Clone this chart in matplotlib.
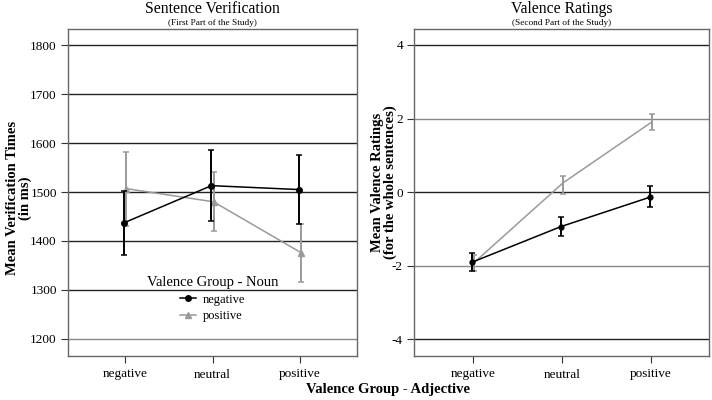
import matplotlib
matplotlib.use("Agg")
import matplotlib.pyplot as plt
from matplotlib.lines import Line2D
import numpy as np

plt.rcParams['font.family'] = ['Liberation Serif', 'DejaVu Serif']
plt.rcParams['axes.unicode_minus'] = False

categories = ["negative", "neutral", "positive"]
groups = ["negative", "positive"]

# Sentence verification (ms)
sv_neg = [1437, 1513, 1505]
sv_neg_lo = [1372, 1440, 1434]
sv_neg_hi = [1502, 1586, 1576]
sv_pos = [1507, 1480, 1376]
sv_pos_lo = [1431, 1420, 1316]
sv_pos_hi = [1582, 1541, 1434]

# Valence ratings
vr_neg = [-1.91, -0.94, -0.14]
vr_neg_lo = [-2.16, -1.19, -0.41]
vr_neg_hi = [-1.66, -0.68, 0.17]
vr_pos = [-1.92, 0.25, 1.91]
vr_pos_lo = [-2.16, -0.05, 1.68]
vr_pos_hi = [-1.71, 0.44, 2.11]

sv_ticks = [1200, 1300, 1400, 1500, 1600, 1700, 1800]
vr_ticks = [-4, -2, 0, 2, 4]

BLACK = "#000000"
GRAY = "#9a9a9a"

fig = plt.figure(figsize=(7.12, 4.0), dpi=100)
axL = fig.add_axes([68/712, 44/400, 289/712, 327/400])
axR = fig.add_axes([414/712, 44/400, 295/712, 327/400])

x = np.arange(len(categories))
off = 0.012

def style(ax, ticks, gridcolors):
    for t, c in zip(ticks, gridcolors):
        ax.axhline(t, color=c, lw=1.0, zorder=0)
    for s in ax.spines.values():
        s.set_color("#666666")
        s.set_linewidth(1.0)
    ax.set_yticks(ticks)
    ax.set_xticks(x)
    ax.set_xticklabels(categories)
    ax.tick_params(axis='both', direction='out', length=5, width=0.8,
                   color="#333333", labelsize=9.5, pad=3)
    ax.tick_params(axis='x', pad=4)

def errs(v, lo, hi):
    v = np.array(v); lo = np.array(lo); hi = np.array(hi)
    return np.vstack([v - lo, hi - v])

# Left
style(axL, sv_ticks, ["#888888"] + ["#222222"] * 6)
axL.errorbar(x - off, sv_neg, yerr=errs(sv_neg, sv_neg_lo, sv_neg_hi),
             color=BLACK, lw=1.1, marker='o', ms=4, capsize=2.2, capthick=1.1,
             elinewidth=1.4, zorder=4)
axL.errorbar(x + off, sv_pos, yerr=errs(sv_pos, sv_pos_lo, sv_pos_hi),
             color=GRAY, lw=1.1, marker='^', ms=5, capsize=2.2, capthick=1.1,
             elinewidth=1.4, zorder=3)
axL.set_xlim(-0.651, 2.651)
axL.set_ylim(1165, 1833)
axL.set_ylabel("Mean Verification Times\n(in ms)", fontsize=10.5, fontweight='bold',
               linespacing=0.95)
axL.yaxis.set_label_coords(-0.125, 0.483)
axL.text(0.5, 1.061, "Sentence Verification", transform=axL.transAxes,
         ha='center', va='center', fontsize=11.3)
axL.text(0.5, 1.019, "(First Part of the Study)", transform=axL.transAxes,
         ha='center', va='center', fontsize=6.7)
handles = [Line2D([], [], color=BLACK, lw=1.1, marker='o', ms=4),
           Line2D([], [], color=GRAY, lw=1.1, marker='^', ms=5)]
leg = axL.legend(handles, groups, title="Valence Group - Noun", loc='upper center',
                 bbox_to_anchor=(0.5, 0.27), frameon=False, fontsize=9,
                 title_fontsize=10.5, handlelength=1.3, handletextpad=0.5,
                 labelspacing=0.35, borderpad=0.2)

# Right
style(axR, vr_ticks, ["#222222", "#888888", "#222222", "#888888", "#222222"])
axR.errorbar(x + off, vr_pos, yerr=errs(vr_pos, vr_pos_lo, vr_pos_hi),
             color=GRAY, lw=1.1, capsize=2.2, capthick=1.1, elinewidth=1.4, zorder=3)
axR.errorbar(x - off, vr_neg, yerr=errs(vr_neg, vr_neg_lo, vr_neg_hi),
             color=BLACK, lw=1.1, marker='o', ms=3.5, capsize=2.2, capthick=1.1,
             elinewidth=1.4, zorder=4)
axR.set_xlim(-0.663, 2.652)
axR.set_ylim(-4.46, 4.435)
axR.set_ylabel("Mean Valence Ratings\n(for the whole sentences)", fontsize=10.5,
               fontweight='bold', linespacing=0.95)
axR.yaxis.set_label_coords(-0.058, 0.532)
axR.text(0.5, 1.061, "Valence Ratings", transform=axR.transAxes,
         ha='center', va='center', fontsize=11.3)
axR.text(0.5, 1.019, "(Second Part of the Study)", transform=axR.transAxes,
         ha='center', va='center', fontsize=6.7)

fig.text(388/712, 1 - 389/400, "Valence Group - Adjective", ha='center', va='center',
         fontsize=10.5, fontweight='bold')

fig.savefig("out.png", dpi=100)
